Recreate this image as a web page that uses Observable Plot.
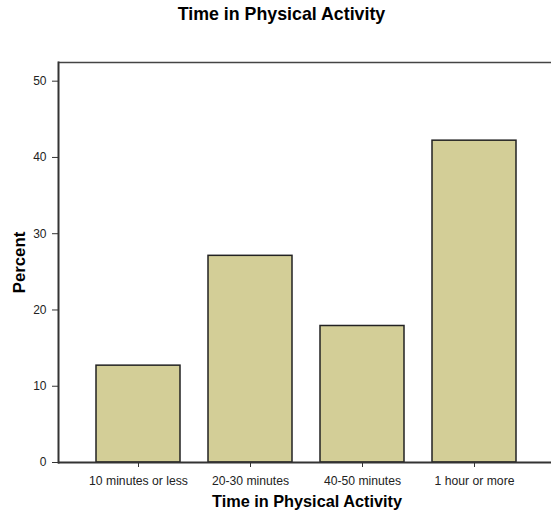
<!DOCTYPE html>
<html>
<head>
<meta charset="utf-8">
<script src="https://cdn.jsdelivr.net/npm/d3@7"></script>
<script src="https://cdn.jsdelivr.net/npm/@observablehq/plot@0.6"></script>
<style>
  html, body { margin: 0; padding: 0; background: #fff; overflow: hidden; }
  #title { height: 28px; line-height: 30px; text-align: center; font: bold 17.8px "Liberation Sans", Arial, sans-serif; color: #000; width: 551px; padding-left: 12px; box-sizing: border-box; white-space: nowrap; overflow: visible; position: relative; top: 4px; }
</style>
</head>
<body>
<div id="title">Time in Physical Activity</div>
<div id="chart"></div>
<script>
const categories = ["10 minutes or less", "20-30 minutes", "40-50 minutes", "1 hour or more"];
const percents = [12.7, 27.1, 17.9, 42.2];
const yTicks = [0, 10, 20, 30, 40, 50];
const yMax = 52.45;
const xLabel = "Time in Physical Activity";
const yLabel = "Percent";

const data = categories.map((c, i) => ({category: c, percent: percents[i]}));

const font = '"Liberation Sans", Arial, sans-serif';
const chart = Plot.plot({
  width: 551,
  height: 488,
  marginTop: 34,
  marginBottom: 54,
  marginLeft: 58,
  marginRight: 0,
  style: {fontFamily: font, color: "#222", background: "#fff"},
  x: {type: "band", domain: categories, range: [58, 554.5], paddingInner: 0.25, paddingOuter: 0.34, label: null},
  y: {domain: [0, yMax], label: null},
  marks: [
    Plot.barY(data, {x: "category", y: "percent", fill: "#d3ce97", stroke: "#222", strokeWidth: 1.5}),
    Plot.ruleY([0], {stroke: "#333", strokeWidth: 2}),
    Plot.ruleY([yMax], {stroke: "#444", strokeWidth: 1.5}),
    Plot.frame({anchor: "left", stroke: "#333", strokeWidth: 2}),
    Plot.axisY({ticks: yTicks, tickSize: 6, tickPadding: 6, fontSize: 12, label: null, stroke: "#333"}),
    Plot.axisX({tickSize: 5, tickPadding: 9, fontSize: 12.2, label: null, stroke: "#333"}),
    Plot.text([xLabel], {frameAnchor: "bottom", lineAnchor: "middle", textAnchor: "middle", dy: 39, dx: 2, fontSize: 16.3, fontWeight: "bold", fill: "#000"}),
    Plot.text([yLabel], {frameAnchor: "left", lineAnchor: "middle", textAnchor: "middle", dx: -39, rotate: -90, fontSize: 16.8, fontWeight: "bold", fill: "#000"})
  ]
});
document.getElementById("chart").appendChild(chart);
</script>
</body>
</html>
